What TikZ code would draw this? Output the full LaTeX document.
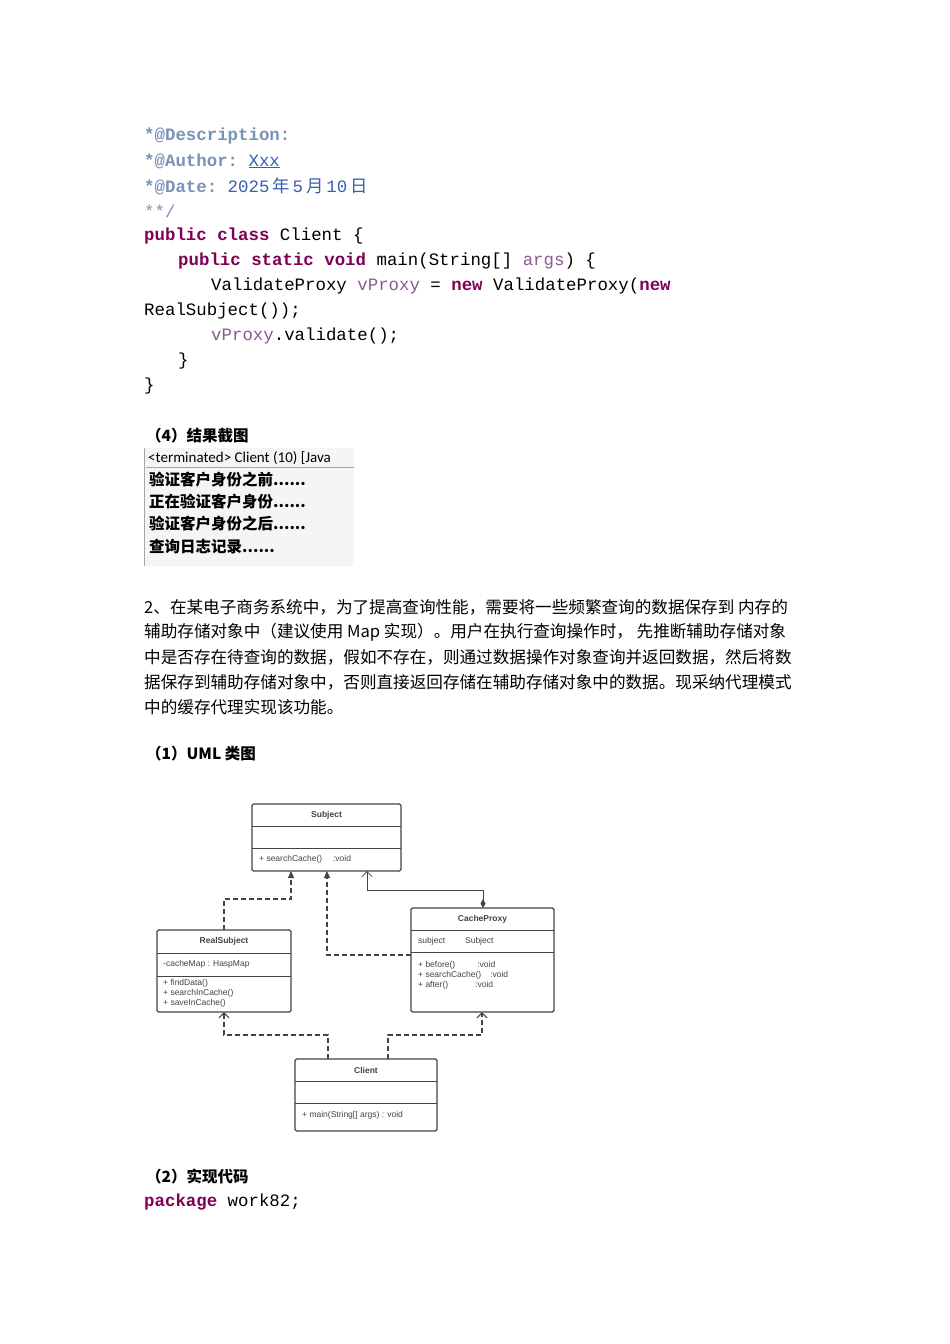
\documentclass[tikz,border=0pt]{standalone}
\usepackage{fontspec}
\setmainfont{Liberation Serif}
\setmonofont{Liberation Mono}
\setsansfont{Liberation Sans}
\newfontfamily\cjk{Noto Sans CJK SC}
\usetikzlibrary{arrows.meta}
\definecolor{cmt}{HTML}{7A92B8}
\definecolor{kw}{HTML}{7F0055}
\definecolor{var}{HTML}{8A5A8E}
\definecolor{dt}{HTML}{3A5FB0}
\definecolor{uml}{HTML}{444444}
\begin{document}
\begin{tikzpicture}[x=1pt,y=-1pt,
 code/.style={anchor=west,inner sep=0pt,font=\ttfamily\fontsize{17.4}{17}\selectfont},
 para/.style={anchor=west,inner sep=0pt,font=\cjk\fontsize{16.6}{16}\selectfont},
 shot/.style={anchor=west,inner sep=0pt,font=\cjk\bfseries\fontsize{15.5}{15}\selectfont},
 box/.style={draw=uml,line width=1.2pt,rounded corners=1.5pt},
 sep/.style={draw=uml,line width=0.8pt},
 ttl/.style={inner sep=0pt,font=\sffamily\bfseries\fontsize{8.5}{9}\selectfont,text=uml},
 itm/.style={inner sep=0pt,anchor=west,font=\sffamily\fontsize{8.5}{9.8}\selectfont,text=uml,align=left},
 dep/.style={draw=uml,line width=1.2pt,dash pattern=on 5pt off 3pt},
 kb/.style={text=kw,font=\ttfamily\bfseries}]
\useasboundingbox (0,0) rectangle (950,1344);
\fill[white] (0,0) rectangle (950,1344);
% code
\node[code,text=cmt] (c1) at (144,136) {\textbf{*@Description:}};
\node[code,text=cmt] (c2) at (144,161) {\textbf{*@Author:} \textcolor{dt}{\underline{Xxx}}};
\node[code,text=cmt] (c3) at (144,186) {\textbf{*@Date:} \textcolor{dt}{2025\,{\cjk 年}\,5\,{\cjk 月}\,10\,{\cjk 日}}};
\node[code,text=cmt] (c4) at (144,211) {**/};
\node[code] (c5) at (144,236) {\textcolor{kw}{\textbf{public class}} Client \{};
\node[code] (c6) at (178,261) {\textcolor{kw}{\textbf{public static void}} main(String[] \textcolor{var}{args}) \{};
\node[code] (c7) at (211,286) {ValidateProxy \textcolor{var}{vProxy} = \textcolor{kw}{\textbf{new}} ValidateProxy(\textcolor{kw}{\textbf{new}}};
\node[code] (c8) at (144,311) {RealSubject());};
\node[code] (c9) at (211,336) {\textcolor{var}{vProxy}.validate();};
\node[code] (c10) at (178,361) {\}};
\node[code] (c11) at (144,386) {\}};
% result
\node[shot] (h4) at (146,436) {（4）结果截图};
\fill[black!4] (144,448) rectangle (354,566);
\draw[black!35] (144,448) -- (144,566);
\draw[black!35] (146,467) -- (354,467);
\node[anchor=west,inner sep=0pt,font=\fontspec{Carlito}\fontsize{15}{15}\selectfont] (t0) at (148,458) {<terminated> Client (10) [Java};
\node[shot] (t1) at (149,480) {验证客户身份之前......};
\node[shot] (t2) at (149,502) {正在验证客户身份......};
\node[shot] (t3) at (149,524) {验证客户身份之后......};
\node[shot] (t4) at (149,547) {查询日志记录......};
% paragraph
\node[para] (p1) at (144,607) {2、在某电子商务系统中，为了提高查询性能，需要将一些频繁查询的数据保存到 内存的};
\node[para] (p2) at (144,632) {辅助存储对象中（建议使用 Map 实现）。用户在执行查询操作时， 先推断辅助存储对象};
\node[para] (p3) at (144,657) {中是否存在待查询的数据，假如不存在，则通过数据操作对象查询并返回数据，然后将数};
\node[para] (p4) at (144,682) {据保存到辅助存储对象中，否则直接返回存储在辅助存储对象中的数据。现采纳代理模式};
\node[para] (p5) at (144,707) {中的缓存代理实现该功能。};
\node[shot] (h1) at (146,754) {（1）UML 类图};
% UML boxes
\draw[box] (252,804) rectangle (401,871); \draw[sep] (252,826)--(401,826) (252,848)--(401,848);
\node[ttl] (subj) at (326.5,815) {Subject};
\node[itm] (subjm) at (259,859) {+ searchCache()\quad\ :void};
\coordinate (subjB1) at (291,871); \coordinate (subjB2) at (327,871); \coordinate (subjB3) at (367,871);
\draw[box] (411,908) rectangle (554,1012); \draw[sep] (411,930)--(554,930) (411,952)--(554,952);
\node[ttl] (cp) at (482.5,919) {CacheProxy};
\node[itm] (cpa) at (418,941) {subject\hspace{20pt}Subject};
\node[itm] (cpm) at (418,975) {+ before()\hspace{22pt}:void\\+ searchCache()\hspace{9pt}:void\\+ after()\hspace{27pt}:void};
\draw[box] (157,930) rectangle (291,1012); \draw[sep] (157,953)--(291,953) (157,976)--(291,976);
\node[ttl] (rs) at (224,941.5) {RealSubject};
\node[itm] (rsa) at (163,964.5) {-cacheMap : HaspMap};
\node[itm] (rsm) at (163,993.5) {+ findData()\\+ searchInCache()\\+ saveInCache()};
\draw[box] (295,1059) rectangle (437,1131); \draw[sep] (295,1081)--(437,1081) (295,1103)--(437,1103);
\node[ttl] (cl) at (366,1070.5) {Client};
\node[itm] (clm) at (302,1115) {+ main(String[] args) : void};
% connectors
\coordinate (rsT) at (224,930); \coordinate (cpL) at (411,955); \coordinate (cpT) at (483,908);
\coordinate (rsB) at (224,1012); \coordinate (cpB) at (482,1012);
\coordinate (clT1) at (328,1059); \coordinate (clT2) at (388,1059);
\draw[dep,-{Triangle[length=7pt,width=6pt,fill=uml]}] (rsT) |- (291,899) -- (subjB1);
\draw[dep,-{Triangle[length=7pt,width=6pt,fill=uml]}] (cpL) -| (subjB2);
\draw[draw=uml,line width=0.8pt,{Diamond[length=9pt,width=5pt,fill=uml]}-{Straight Barb[length=5pt,width=10pt]}] (cpT) |- (367,890) -- (subjB3);
\draw[dep,-{Straight Barb[length=5pt,width=10pt,line width=1.2pt]}] (clT1) |- (224,1035) -- (rsB);
\draw[dep,-{Straight Barb[length=5pt,width=10pt,line width=1.2pt]}] (clT2) |- (482,1035) -- (cpB);
% section 2
\node[shot] (h2) at (146,1177) {（2）实现代码};
\node[code] (pk) at (144,1202) {\textcolor{kw}{\textbf{package}} work82;};
\end{tikzpicture}
\end{document}
